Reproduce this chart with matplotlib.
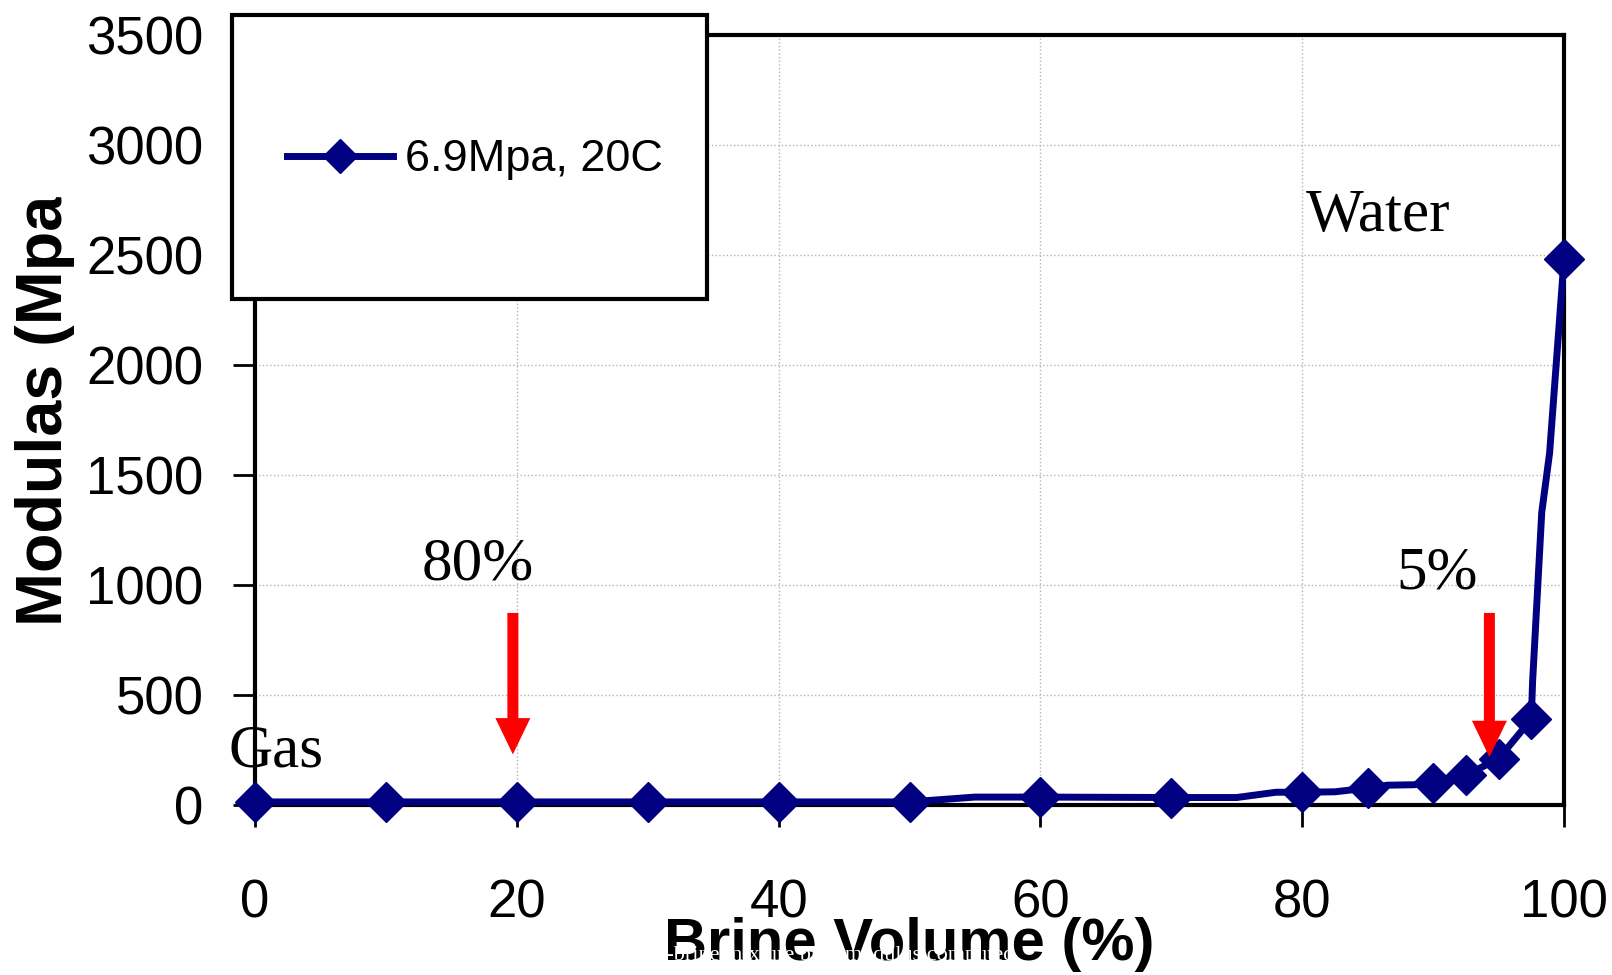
import matplotlib.pyplot as plt
from matplotlib.lines import Line2D
from matplotlib.patches import Rectangle

# data
brine = [0, 10, 20, 30, 40, 50, 55, 60, 70, 75, 78, 80, 82.5, 85, 86.5, 88.5,
         90, 92.5, 95, 97.5, 97.6, 98.3, 98.9, 100]
modulus = [14, 14, 14, 14, 14, 14, 36, 36, 34, 34, 58, 58, 60, 77, 90, 92,
           100, 136, 210, 390, 560, 1330, 1600, 2480]
marked = [0, 10, 20, 30, 40, 50, 60, 70, 80, 85, 90, 92.5, 95, 97.5, 100]
x_ticks = [0, 20, 40, 60, 80, 100]
y_ticks = [0, 500, 1000, 1500, 2000, 2500, 3000, 3500]
series_label = '6.9Mpa, 20C'

sans = ['Liberation Sans', 'DejaVu Sans']
serif = ['Liberation Serif', 'DejaVu Serif']
navy = '#000080'
plt.rcParams['font.family'] = sans

W, H = 1612, 975
fig = plt.figure(figsize=(W / 100, H / 100), dpi=100)
ax = fig.add_axes([255 / W, 1 - 805 / H, 1309 / W, 770 / H])

# curve with diamond markers on the measured points
idx = [i for i, x in enumerate(brine) if x in marked]
ax.plot(brine, modulus, color=navy, lw=5, marker='D', ms=20, mec=navy,
        markevery=idx, zorder=3, clip_on=False)

ax.set_xlim(0, 100)
ax.set_ylim(0, 3500)
ax.set_xticks(x_ticks)
ax.set_yticks(y_ticks)
ax.tick_params(direction='out', length=16, width=2, labelsize=38)
ax.tick_params(axis='x', pad=37)
ax.tick_params(axis='y', pad=21)
ax.grid(True, color='#b4b4b4', ls=':', lw=1)
for s in ax.spines.values():
    s.set_linewidth(3)

# axis labels
ax.set_xlabel('Brine Volume (%)', fontsize=43, fontweight='bold')
ax.xaxis.set_label_coords(0.5, -0.145)
ax.set_ylabel('Modulas (Mpa)', fontsize=46.5, fontweight='bold')
ax.yaxis.set_label_coords(-0.1375, 0.526)

# annotations
ax.text(80.3, 2609, 'Water', family=serif, fontsize=44, va='baseline')
ax.text(12.7, 1027, '80%', family=serif, fontsize=44, va='baseline')
ax.text(87.2, 986, '5%', family=serif, fontsize=44, va='baseline')
ax.text(-2.06, 177, 'Gas', family=serif, fontsize=44, va='baseline')
ax.arrow(19.7, 873, 0, 230 - 873, width=0.84, head_width=2.67, head_length=165,
         length_includes_head=True, color='red', lw=0, zorder=4)
ax.arrow(94.3, 873, 0, 218 - 873, width=0.84, head_width=2.67, head_length=165,
         length_includes_head=True, color='red', lw=0, zorder=4)

# the label top is cut off in the original
fig.add_artist(Rectangle((0, 1 - 196 / H), 80 / W, 196 / H, transform=fig.transFigure,
                         color='white', zorder=2))

# legend box
fig.add_artist(Rectangle((232 / W, 1 - 299 / H), 475 / W, 284 / H, transform=fig.transFigure,
                         fc='white', ec='black', lw=3, zorder=3))
handle = Line2D([], [], color=navy, lw=5, marker='D', ms=17, mec=navy)
fig.legend([handle], [series_label], loc='center left', bbox_to_anchor=(287 / W, 1 - 160 / H),
           frameon=False, borderpad=0, borderaxespad=0, handlelength=2.35,
           handletextpad=0.27, fontsize=32.5)

# faint caption text showing through the x label
fig.text(632 / W, 1 - 960 / H, 'Gas-brine mixture bulk modulus computed', color='white',
         family=serif, fontsize=16, va='baseline', zorder=6)

fig.savefig('out.png', dpi=100)
